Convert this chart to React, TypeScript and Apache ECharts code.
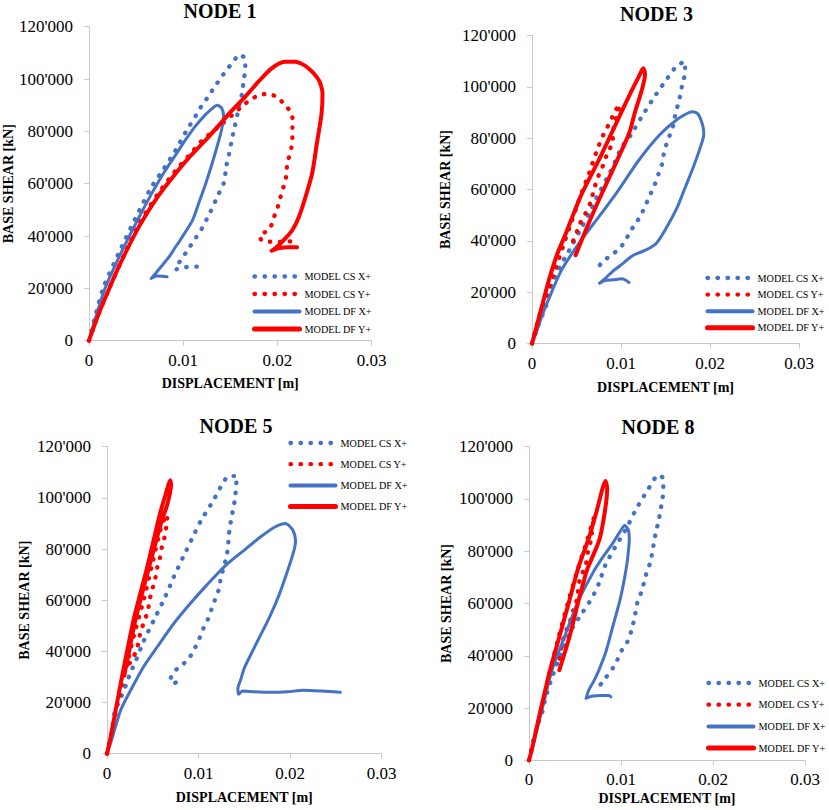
import React, { useEffect, useRef } from 'react';
import * as echarts from 'echarts';

const SERIES_NAMES = ['MODEL CS X+', 'MODEL CS Y+', 'MODEL DF X+', 'MODEL DF Y+'];
const PANEL_TITLES = ['NODE 1', 'NODE 3', 'NODE 5', 'NODE 8'];
const X_NAME = 'DISPLACEMENT [m]';
const Y_NAME = 'BASE SHEAR [kN]';

// NODE 1
const n1CsX = [[0,0],[0.0006,8500],[0.0015,20000],[0.0031,33000],[0.0049,46500],[0.0066,58500],[0.0080,66000],[0.0092,72800],[0.0103,79900],[0.0115,86900],[0.0120,90000],[0.0127,93500],[0.0133,96800],[0.0146,103400],[0.0153,106500],[0.0160,109400],[0.0166,107500],[0.0166,103400],[0.0164,99400],[0.0163,95200],[0.0160,90700],[0.0158,87100],[0.0156,83700],[0.0153,79000],[0.0151,75400],[0.0148,70000],[0.0146,67000],[0.0143,60100],[0.0138,56300],[0.0129,49300],[0.0119,42300],[0.0113,39100],[0.0106,35300],[0.0100,32100],[0.0094,28900],[0.0092,27200],[0.0100,28000],[0.0110,28300],[0.0120,28300]];
const n1CsY = [[0,0],[0.0010,10000],[0.0021,19500],[0.0037,32500],[0.0053,44500],[0.0072,55500],[0.0092,65000],[0.0108,71500],[0.0120,76500],[0.0129,79200],[0.0140,82400],[0.0152,86200],[0.0163,89700],[0.0171,92000],[0.0181,93900],[0.0192,94300],[0.0201,92600],[0.0210,89400],[0.0216,85900],[0.0216,81800],[0.0216,78000],[0.0215,73900],[0.0212,69700],[0.0210,65900],[0.0209,62000],[0.0206,58200],[0.0203,54400],[0.0200,50600],[0.0196,46800],[0.0193,43600],[0.0187,41500],[0.0181,40000],[0.0184,38200],[0.0196,37800],[0.0207,37800],[0.0218,38100]];
const n1DfX = [[0,0],[0.0006,7500],[0.0016,19000],[0.0032,32000],[0.0050,45000],[0.0067,56500],[0.0080,64500],[0.0092,71000],[0.0103,77000],[0.0113,82000],[0.0124,86500],[0.0131,88800],[0.0136,90000],[0.0141,88800],[0.0143,85600],[0.0141,81000],[0.0138,76700],[0.0131,68000],[0.0124,60100],[0.0117,53000],[0.0110,46100],[0.0097,38500],[0.0092,35900],[0.0086,32500],[0.0078,28900],[0.0071,25800],[0.0066,23800],[0.0072,24700],[0.0078,24600],[0.0083,24400]];
const n1DfY = [[0,0],[0.0010,10000],[0.0021,19500],[0.0030,27000],[0.0040,34500],[0.0053,43500],[0.0072,54500],[0.0092,63900],[0.0108,70700],[0.0124,76700],[0.0136,81500],[0.0149,86900],[0.0166,93300],[0.0180,99000],[0.0194,104100],[0.0208,106600],[0.0219,106600],[0.0231,104700],[0.0244,99600],[0.0248,94500],[0.0247,86900],[0.0242,75400],[0.0237,64000],[0.0230,55000],[0.0223,47400],[0.0216,42300],[0.0207,38500],[0.0198,35300],[0.0194,34400],[0.0201,35300],[0.0212,35700],[0.0221,35700]];

// NODE 3
const n3CsX = [[0,0],[0.0009,8700],[0.0017,15800],[0.0023,23400],[0.0032,30500],[0.0038,34000],[0.0045,38300],[0.0056,45400],[0.0066,51900],[0.0071,55800],[0.0077,59700],[0.0088,66900],[0.0101,76600],[0.0111,81200],[0.0123,88200],[0.0136,95300],[0.0149,101800],[0.0163,108300],[0.0172,109800],[0.0172,105500],[0.0169,101200],[0.0167,97300],[0.0164,93100],[0.0161,89200],[0.0159,85300],[0.0155,81400],[0.0151,77600],[0.0148,73700],[0.0146,69800],[0.0142,65900],[0.0138,62000],[0.0133,58100],[0.0128,54200],[0.0123,50500],[0.0117,47000],[0.0110,43500],[0.0105,40100],[0.0098,36900],[0.0089,34400],[0.0080,32100],[0.0072,28800],[0.0069,27900]];
const n3CsY = [[0,0],[0.0005,6500],[0.0010,13000],[0.0017,19500],[0.0026,28600],[0.0036,39000],[0.0045,48000],[0.0054,57100],[0.0064,66200],[0.0073,75300],[0.0080,81200],[0.0088,86500],[0.0094,91000],[0.0099,93100],[0.0096,89200],[0.0092,84700],[0.0090,78000],[0.0084,73400],[0.0080,69500],[0.0075,65600],[0.0070,60500],[0.0066,55200],[0.0060,50600],[0.0054,46800],[0.0049,42200],[0.0045,39000]];
const n3DfX = [[0,0],[0.0005,4500],[0.0012,11500],[0.0023,20800],[0.0033,28500],[0.0045,35100],[0.0060,42500],[0.0075,49300],[0.0097,59700],[0.0120,71400],[0.0144,81500],[0.0163,87300],[0.0176,89900],[0.0181,90300],[0.0187,89200],[0.0192,84700],[0.0193,81400],[0.0189,76300],[0.0181,68500],[0.0172,60700],[0.0163,52900],[0.0151,45100],[0.0140,39200],[0.0129,36600],[0.0120,35300],[0.0112,34000],[0.0103,31400],[0.0091,28200],[0.0082,25300],[0.0076,23500],[0.0082,24500],[0.0091,24800],[0.0101,25200],[0.0109,23800]];
const n3DfY = [[0,0],[0.0005,6500],[0.0010,13000],[0.0019,24700],[0.0028,34500],[0.0038,42900],[0.0047,50800],[0.0056,58400],[0.0075,71400],[0.0090,82400],[0.0101,90500],[0.0112,98500],[0.0120,104000],[0.0125,107200],[0.0127,104800],[0.0123,98300],[0.0116,90500],[0.0109,81800],[0.0094,70100],[0.0075,55800],[0.0062,45500],[0.0049,34400]];

// NODE 5
const n5CsX = [[0,0],[0.0005,8600],[0.0009,17100],[0.0018,24200],[0.0022,28100],[0.0026,32000],[0.0031,35900],[0.0039,43100],[0.0044,47000],[0.0054,54200],[0.0064,61600],[0.0073,69100],[0.0083,76700],[0.0093,84100],[0.0103,91300],[0.0115,98200],[0.0126,105300],[0.0133,108500],[0.0142,108500],[0.0141,104400],[0.0140,99800],[0.0138,95900],[0.0136,92000],[0.0134,88100],[0.0133,84200],[0.0132,80000],[0.0130,76100],[0.0127,72200],[0.0124,67900],[0.0122,64000],[0.0118,60100],[0.0114,56200],[0.0110,52300],[0.0105,48700],[0.0101,45100],[0.0096,41200],[0.0090,37500],[0.0082,34600],[0.0073,32000],[0.0069,28500],[0.0073,27500],[0.0077,28300]];
const n5CsY = [[0,0],[0.0005,8000],[0.0013,22000],[0.0022,35000],[0.0030,47000],[0.0040,60000],[0.0050,75000],[0.0058,87000],[0.0063,92000],[0.0066,93300],[0.0065,89400],[0.0063,84800],[0.0060,80900],[0.0058,76700],[0.0055,72800],[0.0053,68900],[0.0050,64900],[0.0047,60700],[0.0045,56800],[0.0042,52900],[0.0038,49000],[0.0035,45100],[0.0033,41200],[0.0029,37900],[0.0024,35000],[0.0019,32500]];
const n5DfX = [[0,0],[0.0005,5300],[0.0015,17100],[0.0026,24900],[0.0040,34000],[0.0055,41800],[0.0073,50900],[0.0091,58700],[0.0109,65900],[0.0130,73700],[0.0150,79600],[0.0168,84800],[0.0184,88700],[0.0195,90000],[0.0203,87400],[0.0206,82900],[0.0204,79000],[0.0197,71100],[0.0188,62000],[0.0177,52900],[0.0166,45100],[0.0157,38600],[0.0150,33400],[0.0146,28800],[0.0143,25500],[0.0144,23200],[0.0148,24500],[0.0161,24200],[0.0179,24000],[0.0197,24200],[0.0215,24800],[0.0234,24500],[0.0255,24000]];
const n5DfY = [[0,0],[0.0004,6600],[0.0015,27500],[0.0029,52200],[0.0044,73000],[0.0058,93900],[0.0065,102500],[0.0069,106900],[0.0070,105000],[0.0066,97500],[0.0060,91300],[0.0046,73000],[0.0031,52200],[0.0023,38000],[0.0019,31000]];

// NODE 8
const n8CsX = [[0,0],[0.0005,7800],[0.0009,12900],[0.0015,19200],[0.0018,23700],[0.0024,30700],[0.0034,40000],[0.0045,49200],[0.0058,56500],[0.0065,60100],[0.0071,63900],[0.0076,67700],[0.0083,74700],[0.0094,81800],[0.0106,88800],[0.0116,95800],[0.0128,102800],[0.0141,109200],[0.0146,107700],[0.0146,103500],[0.0145,99700],[0.0143,95800],[0.0141,91700],[0.0138,87500],[0.0136,83700],[0.0134,79600],[0.0132,75800],[0.0128,72000],[0.0125,68000],[0.0122,64200],[0.0118,60700],[0.0115,55000],[0.0111,49200],[0.0107,45400],[0.0101,42200],[0.0096,38400],[0.0091,35200],[0.0083,31400],[0.0076,28200],[0.0080,28200]];
const n8CsY = [[0,0],[0.0006,9000],[0.0013,19000],[0.0022,33000],[0.0032,47000],[0.0042,60000],[0.0052,72000],[0.0062,83000],[0.0068,90000],[0.0071,93500],[0.0070,91400],[0.0067,83700],[0.0064,79600],[0.0062,75400],[0.0058,71500],[0.0054,67700],[0.0053,63900],[0.0051,60100],[0.0047,56200],[0.0044,52400],[0.0040,49200],[0.0036,44800],[0.0034,40900],[0.0033,38400]];
const n8DfX = [[0,0],[0.0004,5200],[0.0015,20500],[0.0025,34500],[0.0040,48600],[0.0054,61300],[0.0069,71500],[0.0078,76600],[0.0090,82500],[0.0099,87500],[0.0104,89800],[0.0108,88200],[0.0109,84300],[0.0108,79900],[0.0107,76600],[0.0104,70000],[0.0099,61500],[0.0091,51100],[0.0084,42000],[0.0076,34500],[0.0070,30000],[0.0065,26900],[0.0062,23700],[0.0068,24500],[0.0078,24800],[0.0087,24800],[0.0089,24300]];
const n8DfY = [[0,0],[0.0003,4000],[0.0011,16700],[0.0022,33300],[0.0033,47300],[0.0044,61300],[0.0054,74100],[0.0065,85000],[0.0074,96000],[0.0080,104100],[0.0083,106900],[0.0085,104100],[0.0083,96500],[0.0077,85000],[0.0068,77000],[0.0063,72800],[0.0054,61300],[0.0044,47300],[0.0033,34500]];

const PANEL_DATA = [
  [n1CsX, n1CsY, n1DfX, n1DfY],
  [n3CsX, n3CsY, n3DfX, n3DfY],
  [n5CsX, n5CsY, n5DfX, n5DfY],
  [n8CsX, n8CsY, n8DfX, n8DfY],
];

const BLUE = '#4472C4';
const RED = '#FF0000';
const SERIF = "'Liberation Serif', 'Times New Roman', serif";

const LAYOUT = [
  { left: 88, top: 26.7, width: 283.5, height: 314, tx: 220, ty: 11, ll: 247, lt: 266.5, lg: 7.5, gx: 36, gy: 69 },
  { left: 532, top: 35.5, width: 267, height: 308, tx: 656.5, ty: 14, ll: 700, lt: 268, lg: 6.6, gx: 36.5, gy: 80 },
  { left: 107, top: 446.7, width: 274.5, height: 307, tx: 236, ty: 426, ll: 283, lt: 433, lg: 11.2, gx: 36.5, gy: 76 },
  { left: 529, top: 446.7, width: 276, height: 313.6, tx: 658, ty: 427, ll: 701, lt: 673, lg: 11.7, gx: 31.5, gy: 76 },
];

const STYLES = [
  { color: BLUE, width: 4.3, type: [0.5, 9.5] as any, legendWidth: 4.3 },
  { color: RED, width: 4.3, type: [0.5, 9.5] as any, legendWidth: 4.3 },
  { color: BLUE, width: 3, type: 'solid' as any, legendWidth: 4 },
  { color: RED, width: 4, type: 'solid' as any, legendWidth: 5 },
];

const fmtY = (v: number) => (v === 0 ? '0' : String(v).replace(/\B(?=(\d{3})+(?!\d))/g, "'"));
const fmtX = (v: number) => (v === 0 ? '0' : v.toFixed(2));

export default function App() {
  const ref = useRef<HTMLDivElement>(null);
  useEffect(() => {
    if (!ref.current) return;
    const chart = echarts.init(ref.current, null, { renderer: 'svg' });
    const axisGray = '#c9c9c9';
    const grid = LAYOUT.map((l) => ({ left: l.left, top: l.top, width: l.width, height: l.height, containLabel: false }));
    const xAxis = LAYOUT.map((l, i) => ({
      type: 'value', gridIndex: i, min: 0, max: 0.03, interval: 0.01,
      name: X_NAME, nameLocation: 'middle', nameGap: l.gx,
      nameTextStyle: { fontFamily: SERIF, fontWeight: 'bold', fontSize: 14, color: '#000' },
      axisLine: { show: true, lineStyle: { color: axisGray, width: 1 } },
      axisTick: { show: true, length: 5, lineStyle: { color: axisGray } },
      splitLine: { show: false },
      axisLabel: { formatter: fmtX, fontFamily: SERIF, fontSize: 17, color: '#000', margin: 11 },
    }));
    const yAxis = LAYOUT.map((l, i) => ({
      type: 'value', gridIndex: i, min: 0, max: 120000, interval: 20000,
      name: Y_NAME, nameLocation: 'middle', nameGap: l.gy, nameRotate: 90,
      nameTextStyle: { fontFamily: SERIF, fontWeight: 'bold', fontSize: 14, color: '#000' },
      axisLine: { show: true, lineStyle: { color: axisGray, width: 1 } },
      axisTick: { show: true, length: 5, lineStyle: { color: axisGray } },
      splitLine: { show: false },
      axisLabel: { formatter: fmtY, fontFamily: SERIF, fontSize: 17, color: '#000', margin: 16 },
    }));
    const series: any[] = [];
    PANEL_DATA.forEach((panel, p) => {
      panel.forEach((data, s) => {
        const st = STYLES[s];
        series.push({
          type: 'line', name: SERIES_NAMES[s], xAxisIndex: p, yAxisIndex: p,
          data, showSymbol: false, symbol: 'none', smooth: 0.25,
          color: st.color,
          lineStyle: { color: st.color, width: st.width, type: st.type, cap: 'round', join: 'round' },
          emphasis: { disabled: true }, silent: true, z: 2 + s,
        });
      });
    });
    const legend = LAYOUT.map((l) => ({
      orient: 'vertical', left: l.ll, top: l.lt, itemWidth: 45, itemHeight: 12, itemGap: l.lg,
      selectedMode: false,
      textStyle: { fontFamily: SERIF, fontSize: 10.2, color: '#000' },
      data: SERIES_NAMES.map((n, s) => ({
        name: n,
        itemStyle: { color: 'rgba(0,0,0,0)', borderColor: 'rgba(0,0,0,0)', borderWidth: 0, opacity: 0 },
        lineStyle: { width: STYLES[s].legendWidth, type: STYLES[s].type, cap: 'round', color: STYLES[s].color, opacity: 1 },
      })),
    }));
    const graphic = LAYOUT.map((l, i) => ({
      type: 'text', x: l.tx, y: l.ty,
      style: {
        text: PANEL_TITLES[i], font: `bold 20px ${SERIF}`, fill: '#000',
        align: 'center', verticalAlign: 'middle', textAlign: 'center', textVerticalAlign: 'middle',
      },
    }));
    chart.setOption({
      animation: false,
      backgroundColor: '#fff',
      grid, xAxis, yAxis, series, legend, graphic,
    } as any);
    return () => chart.dispose();
  }, []);
  return <div ref={ref} style={{ position: 'fixed', left: 0, top: 0, width: 829, height: 810, background: '#fff' }} />;
}
